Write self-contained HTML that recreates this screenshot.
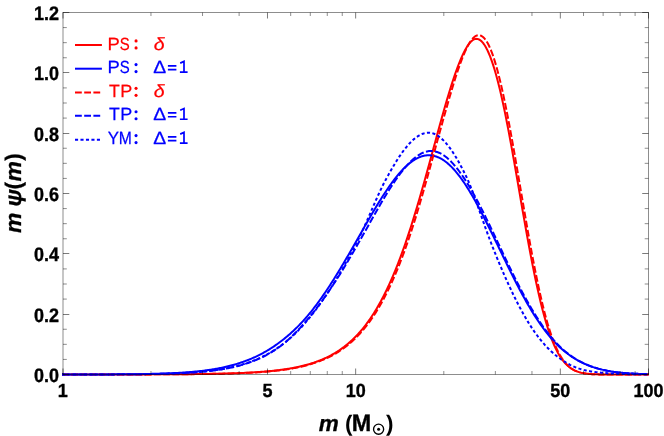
<!DOCTYPE html>
<html><head><meta charset="utf-8"><title>plot</title>
<style>html,body{margin:0;padding:0;background:#fff}svg{display:block;will-change:transform}text{text-rendering:geometricPrecision}</style></head>
<body><svg width="664" height="436" viewBox="0 0 664 436">
<rect width="664" height="436" fill="#fff"/>
<clipPath id="c"><rect x="62" y="12.5" width="586.8" height="364.0"/></clipPath>
<g clip-path="url(#c)"><path d="M62.0,374.49 L63.0,374.49 L64.0,374.49 L65.0,374.49 L66.0,374.49 L67.0,374.49 L68.0,374.49 L69.0,374.49 L70.0,374.49 L71.0,374.48 L72.0,374.48 L73.0,374.48 L74.0,374.48 L75.0,374.48 L76.0,374.48 L77.0,374.48 L78.0,374.48 L79.0,374.48 L80.0,374.48 L81.0,374.48 L82.0,374.48 L83.0,374.48 L84.0,374.48 L85.0,374.48 L86.0,374.48 L87.0,374.48 L88.0,374.48 L89.0,374.48 L90.0,374.48 L91.0,374.47 L92.0,374.47 L93.0,374.47 L94.0,374.47 L95.0,374.47 L96.0,374.47 L97.0,374.47 L98.0,374.47 L99.0,374.47 L100.0,374.47 L101.0,374.47 L102.0,374.47 L103.0,374.47 L104.0,374.46 L105.0,374.46 L106.0,374.46 L107.0,374.46 L108.0,374.46 L109.0,374.46 L110.0,374.46 L111.0,374.46 L112.0,374.46 L113.0,374.45 L114.0,374.45 L115.0,374.45 L116.0,374.45 L117.0,374.45 L118.0,374.45 L119.0,374.45 L120.0,374.45 L121.0,374.44 L122.0,374.44 L123.0,374.44 L124.0,374.44 L125.0,374.44 L126.0,374.44 L127.0,374.43 L128.0,374.43 L129.0,374.43 L130.0,374.43 L131.0,374.43 L132.0,374.42 L133.0,374.42 L134.0,374.42 L135.0,374.42 L136.0,374.42 L137.0,374.41 L138.0,374.41 L139.0,374.41 L140.0,374.41 L141.0,374.40 L142.0,374.40 L143.0,374.40 L144.0,374.40 L145.0,374.39 L146.0,374.39 L147.0,374.39 L148.0,374.38 L149.0,374.38 L150.0,374.38 L151.0,374.38 L152.0,374.37 L153.0,374.37 L154.0,374.36 L155.0,374.36 L156.0,374.36 L157.0,374.35 L158.0,374.35 L159.0,374.35 L160.0,374.34 L161.0,374.34 L162.0,374.33 L163.0,374.33 L164.0,374.32 L165.0,374.32 L166.0,374.31 L167.0,374.31 L168.0,374.30 L169.0,374.30 L170.0,374.29 L171.0,374.29 L172.0,374.28 L173.0,374.27 L174.0,374.27 L175.0,374.26 L176.0,374.25 L177.0,374.25 L178.0,374.24 L179.0,374.23 L180.0,374.23 L181.0,374.22 L182.0,374.21 L183.0,374.20 L184.0,374.19 L185.0,374.19 L186.0,374.18 L187.0,374.17 L188.0,374.16 L189.0,374.15 L190.0,374.14 L191.0,374.13 L192.0,374.12 L193.0,374.11 L194.0,374.10 L195.0,374.09 L196.0,374.08 L197.0,374.06 L198.0,374.05 L199.0,374.04 L200.0,374.03 L201.0,374.01 L202.0,374.00 L203.0,373.98 L204.0,373.97 L205.0,373.96 L206.0,373.94 L207.0,373.92 L208.0,373.91 L209.0,373.89 L210.0,373.87 L211.0,373.86 L212.0,373.84 L213.0,373.82 L214.0,373.80 L215.0,373.78 L216.0,373.76 L217.0,373.74 L218.0,373.72 L219.0,373.70 L220.0,373.67 L221.0,373.65 L222.0,373.63 L223.0,373.60 L224.0,373.58 L225.0,373.55 L226.0,373.52 L227.0,373.49 L228.0,373.47 L229.0,373.44 L230.0,373.41 L231.0,373.38 L232.0,373.34 L233.0,373.31 L234.0,373.28 L235.0,373.24 L236.0,373.21 L237.0,373.17 L238.0,373.13 L239.0,373.09 L240.0,373.05 L241.0,373.01 L242.0,372.97 L243.0,372.92 L244.0,372.88 L245.0,372.83 L246.0,372.78 L247.0,372.73 L248.0,372.68 L249.0,372.63 L250.0,372.58 L251.0,372.52 L252.0,372.47 L253.0,372.41 L254.0,372.35 L255.0,372.29 L256.0,372.22 L257.0,372.16 L258.0,372.09 L259.0,372.02 L260.0,371.95 L261.0,371.87 L262.0,371.80 L263.0,371.72 L264.0,371.64 L265.0,371.56 L266.0,371.47 L267.0,371.39 L268.0,371.30 L269.0,371.20 L270.0,371.11 L271.0,371.01 L272.0,370.91 L273.0,370.80 L274.0,370.70 L275.0,370.59 L276.0,370.47 L277.0,370.36 L278.0,370.24 L279.0,370.12 L280.0,369.99 L281.0,369.86 L282.0,369.72 L283.0,369.58 L284.0,369.44 L285.0,369.30 L286.0,369.15 L287.0,368.99 L288.0,368.83 L289.0,368.67 L290.0,368.50 L291.0,368.32 L292.0,368.15 L293.0,367.96 L294.0,367.77 L295.0,367.58 L296.0,367.38 L297.0,367.17 L298.0,366.96 L299.0,366.74 L300.0,366.52 L301.0,366.29 L302.0,366.05 L303.0,365.80 L304.0,365.55 L305.0,365.29 L306.0,365.03 L307.0,364.75 L308.0,364.47 L309.0,364.18 L310.0,363.89 L311.0,363.58 L312.0,363.27 L313.0,362.94 L314.0,362.61 L315.0,362.27 L316.0,361.92 L317.0,361.55 L318.0,361.18 L319.0,360.80 L320.0,360.41 L321.0,360.00 L322.0,359.59 L323.0,359.16 L324.0,358.72 L325.0,358.27 L326.0,357.81 L327.0,357.33 L328.0,356.84 L329.0,356.34 L330.0,355.82 L331.0,355.29 L332.0,354.75 L333.0,354.19 L334.0,353.61 L335.0,353.02 L336.0,352.41 L337.0,351.79 L338.0,351.15 L339.0,350.49 L340.0,349.81 L341.0,349.12 L342.0,348.41 L343.0,347.68 L344.0,346.93 L345.0,346.16 L346.0,345.37 L347.0,344.55 L348.0,343.72 L349.0,342.87 L350.0,341.99 L351.0,341.09 L352.0,340.17 L353.0,339.22 L354.0,338.25 L355.0,337.26 L356.0,336.24 L357.0,335.19 L358.0,334.12 L359.0,333.02 L360.0,331.89 L361.0,330.74 L362.0,329.55 L363.0,328.34 L364.0,327.10 L365.0,325.83 L366.0,324.53 L367.0,323.19 L368.0,321.83 L369.0,320.43 L370.0,319.00 L371.0,317.54 L372.0,316.04 L373.0,314.50 L374.0,312.94 L375.0,311.33 L376.0,309.69 L377.0,308.02 L378.0,306.30 L379.0,304.55 L380.0,302.76 L381.0,300.94 L382.0,299.07 L383.0,297.16 L384.0,295.21 L385.0,293.23 L386.0,291.20 L387.0,289.13 L388.0,287.01 L389.0,284.86 L390.0,282.66 L391.0,280.42 L392.0,278.14 L393.0,275.82 L394.0,273.45 L395.0,271.03 L396.0,268.58 L397.0,266.07 L398.0,263.53 L399.0,260.94 L400.0,258.30 L401.0,255.63 L402.0,252.90 L403.0,250.14 L404.0,247.33 L405.0,244.47 L406.0,241.58 L407.0,238.64 L408.0,235.66 L409.0,232.63 L410.0,229.57 L411.0,226.46 L412.0,223.31 L413.0,220.13 L414.0,216.90 L415.0,213.64 L416.0,210.34 L417.0,207.00 L418.0,203.63 L419.0,200.23 L420.0,196.80 L421.0,193.33 L422.0,189.84 L423.0,186.32 L424.0,182.77 L425.0,179.20 L426.0,175.61 L427.0,171.99 L428.0,168.36 L429.0,164.72 L430.0,161.06 L431.0,157.39 L432.0,153.71 L433.0,150.02 L434.0,146.34 L435.0,142.65 L436.0,138.97 L437.0,135.29 L438.0,131.62 L439.0,127.97 L440.0,124.33 L441.0,120.71 L442.0,117.12 L443.0,113.55 L444.0,110.01 L445.0,106.51 L446.0,103.05 L447.0,99.63 L448.0,96.26 L449.0,92.94 L450.0,89.67 L451.0,86.47 L452.0,83.33 L453.0,80.26 L454.0,77.26 L455.0,74.34 L456.0,71.49 L457.0,68.74 L458.0,66.07 L459.0,63.50 L460.0,61.02 L461.0,58.64 L462.0,56.37 L463.0,54.21 L464.0,52.17 L465.0,50.24 L466.0,48.45 L467.0,46.78 L468.0,45.26 L469.0,43.88 L470.0,42.65 L471.0,41.59 L472.0,40.69 L473.0,39.96 L474.0,39.41 L475.0,39.05 L476.0,38.87 L477.0,38.88 L478.0,39.08 L479.0,39.48 L480.0,40.06 L481.0,40.84 L482.0,41.80 L483.0,42.96 L484.0,44.30 L485.0,45.82 L486.0,47.53 L487.0,49.43 L488.0,51.50 L489.0,53.76 L490.0,56.19 L491.0,58.81 L492.0,61.60 L493.0,64.57 L494.0,67.71 L495.0,71.03 L496.0,74.52 L497.0,78.17 L498.0,81.99 L499.0,85.97 L500.0,90.10 L501.0,94.39 L502.0,98.82 L503.0,103.39 L504.0,108.09 L505.0,112.92 L506.0,117.87 L507.0,122.94 L508.0,128.11 L509.0,133.38 L510.0,138.73 L511.0,144.17 L512.0,149.69 L513.0,155.27 L514.0,160.91 L515.0,166.59 L516.0,172.32 L517.0,178.07 L518.0,183.85 L519.0,189.63 L520.0,195.42 L521.0,201.21 L522.0,206.98 L523.0,212.73 L524.0,218.45 L525.0,224.12 L526.0,229.75 L527.0,235.32 L528.0,240.83 L529.0,246.26 L530.0,251.62 L531.0,256.89 L532.0,262.07 L533.0,267.15 L534.0,272.13 L535.0,277.00 L536.0,281.75 L537.0,286.39 L538.0,290.90 L539.0,295.29 L540.0,299.55 L541.0,303.67 L542.0,307.66 L543.0,311.51 L544.0,315.23 L545.0,318.80 L546.0,322.24 L547.0,325.54 L548.0,328.70 L549.0,331.72 L550.0,334.60 L551.0,337.35 L552.0,339.96 L553.0,342.44 L554.0,344.79 L555.0,347.02 L556.0,349.12 L557.0,351.10 L558.0,352.96 L559.0,354.71 L560.0,356.36 L561.0,357.89 L562.0,359.32 L563.0,360.66 L564.0,361.90 L565.0,363.05 L566.0,364.12 L567.0,365.10 L568.0,366.01 L569.0,366.85 L570.0,367.62 L571.0,368.32 L572.0,368.97 L573.0,369.56 L574.0,370.09 L575.0,370.58 L576.0,371.02 L577.0,371.41 L578.0,371.77 L579.0,372.09 L580.0,372.38 L581.0,372.64 L582.0,372.87 L583.0,373.08 L584.0,373.26 L585.0,373.43 L586.0,373.57 L587.0,373.70 L588.0,373.81 L589.0,373.90 L590.0,373.99 L591.0,374.06 L592.0,374.13 L593.0,374.18 L594.0,374.23 L595.0,374.27 L596.0,374.31 L597.0,374.34 L598.0,374.37 L599.0,374.39 L600.0,374.41 L601.0,374.42 L602.0,374.44 L603.0,374.45 L604.0,374.46 L605.0,374.46 L606.0,374.47 L607.0,374.48 L608.0,374.48 L609.0,374.48 L610.0,374.49 L611.0,374.49 L612.0,374.49 L613.0,374.49 L614.0,374.49 L615.0,374.50 L616.0,374.50 L617.0,374.50 L618.0,374.50 L619.0,374.50 L620.0,374.50 L621.0,374.50 L622.0,374.50 L623.0,374.50 L624.0,374.50 L625.0,374.50 L626.0,374.50 L627.0,374.50 L628.0,374.50 L629.0,374.50 L630.0,374.50 L631.0,374.50 L632.0,374.50 L633.0,374.50 L634.0,374.50 L635.0,374.50 L636.0,374.50 L637.0,374.50 L638.0,374.50 L639.0,374.50 L640.0,374.50 L641.0,374.50 L642.0,374.50 L643.0,374.50 L644.0,374.50 L645.0,374.50 L646.0,374.50 L647.0,374.50 L648.0,374.50 L648.8,374.50" stroke="#ff0000" stroke-width="2" fill="none" stroke-linejoin="round"/><path d="M62.0,374.48 L63.0,374.48 L64.0,374.48 L65.0,374.48 L66.0,374.48 L67.0,374.48 L68.0,374.48 L69.0,374.48 L70.0,374.48 L71.0,374.48 L72.0,374.47 L73.0,374.47 L74.0,374.47 L75.0,374.47 L76.0,374.47 L77.0,374.47 L78.0,374.47 L79.0,374.47 L80.0,374.46 L81.0,374.46 L82.0,374.46 L83.0,374.46 L84.0,374.46 L85.0,374.46 L86.0,374.45 L87.0,374.45 L88.0,374.45 L89.0,374.45 L90.0,374.45 L91.0,374.44 L92.0,374.44 L93.0,374.44 L94.0,374.44 L95.0,374.43 L96.0,374.43 L97.0,374.43 L98.0,374.42 L99.0,374.42 L100.0,374.42 L101.0,374.41 L102.0,374.41 L103.0,374.41 L104.0,374.40 L105.0,374.40 L106.0,374.40 L107.0,374.39 L108.0,374.39 L109.0,374.38 L110.0,374.38 L111.0,374.37 L112.0,374.37 L113.0,374.36 L114.0,374.35 L115.0,374.35 L116.0,374.34 L117.0,374.34 L118.0,374.33 L119.0,374.32 L120.0,374.32 L121.0,374.31 L122.0,374.30 L123.0,374.29 L124.0,374.28 L125.0,374.28 L126.0,374.27 L127.0,374.26 L128.0,374.25 L129.0,374.24 L130.0,374.23 L131.0,374.22 L132.0,374.20 L133.0,374.19 L134.0,374.18 L135.0,374.17 L136.0,374.15 L137.0,374.14 L138.0,374.13 L139.0,374.11 L140.0,374.10 L141.0,374.08 L142.0,374.07 L143.0,374.05 L144.0,374.03 L145.0,374.01 L146.0,373.99 L147.0,373.98 L148.0,373.96 L149.0,373.93 L150.0,373.91 L151.0,373.89 L152.0,373.87 L153.0,373.84 L154.0,373.82 L155.0,373.79 L156.0,373.77 L157.0,373.74 L158.0,373.71 L159.0,373.68 L160.0,373.65 L161.0,373.62 L162.0,373.59 L163.0,373.55 L164.0,373.52 L165.0,373.48 L166.0,373.44 L167.0,373.41 L168.0,373.37 L169.0,373.33 L170.0,373.28 L171.0,373.24 L172.0,373.19 L173.0,373.15 L174.0,373.10 L175.0,373.05 L176.0,372.99 L177.0,372.94 L178.0,372.89 L179.0,372.83 L180.0,372.77 L181.0,372.71 L182.0,372.64 L183.0,372.58 L184.0,372.51 L185.0,372.44 L186.0,372.37 L187.0,372.30 L188.0,372.22 L189.0,372.14 L190.0,372.06 L191.0,371.98 L192.0,371.89 L193.0,371.80 L194.0,371.71 L195.0,371.62 L196.0,371.52 L197.0,371.42 L198.0,371.31 L199.0,371.21 L200.0,371.10 L201.0,370.98 L202.0,370.87 L203.0,370.75 L204.0,370.62 L205.0,370.49 L206.0,370.36 L207.0,370.23 L208.0,370.09 L209.0,369.95 L210.0,369.80 L211.0,369.65 L212.0,369.49 L213.0,369.33 L214.0,369.16 L215.0,368.99 L216.0,368.82 L217.0,368.64 L218.0,368.45 L219.0,368.26 L220.0,368.07 L221.0,367.86 L222.0,367.66 L223.0,367.45 L224.0,367.23 L225.0,367.01 L226.0,366.78 L227.0,366.54 L228.0,366.30 L229.0,366.05 L230.0,365.80 L231.0,365.54 L232.0,365.28 L233.0,365.00 L234.0,364.72 L235.0,364.44 L236.0,364.14 L237.0,363.84 L238.0,363.54 L239.0,363.22 L240.0,362.90 L241.0,362.57 L242.0,362.23 L243.0,361.88 L244.0,361.53 L245.0,361.16 L246.0,360.79 L247.0,360.41 L248.0,360.02 L249.0,359.62 L250.0,359.22 L251.0,358.80 L252.0,358.37 L253.0,357.94 L254.0,357.49 L255.0,357.04 L256.0,356.57 L257.0,356.10 L258.0,355.61 L259.0,355.12 L260.0,354.61 L261.0,354.09 L262.0,353.56 L263.0,353.02 L264.0,352.47 L265.0,351.90 L266.0,351.33 L267.0,350.74 L268.0,350.14 L269.0,349.53 L270.0,348.91 L271.0,348.27 L272.0,347.63 L273.0,346.97 L274.0,346.30 L275.0,345.62 L276.0,344.93 L277.0,344.23 L278.0,343.51 L279.0,342.78 L280.0,342.04 L281.0,341.28 L282.0,340.52 L283.0,339.74 L284.0,338.94 L285.0,338.14 L286.0,337.32 L287.0,336.48 L288.0,335.63 L289.0,334.77 L290.0,333.89 L291.0,333.00 L292.0,332.10 L293.0,331.18 L294.0,330.24 L295.0,329.29 L296.0,328.32 L297.0,327.34 L298.0,326.34 L299.0,325.33 L300.0,324.29 L301.0,323.25 L302.0,322.18 L303.0,321.10 L304.0,320.00 L305.0,318.88 L306.0,317.74 L307.0,316.59 L308.0,315.41 L309.0,314.22 L310.0,313.01 L311.0,311.78 L312.0,310.52 L313.0,309.25 L314.0,307.96 L315.0,306.65 L316.0,305.33 L317.0,303.99 L318.0,302.63 L319.0,301.26 L320.0,299.88 L321.0,298.48 L322.0,297.06 L323.0,295.63 L324.0,294.18 L325.0,292.72 L326.0,291.24 L327.0,289.75 L328.0,288.25 L329.0,286.73 L330.0,285.19 L331.0,283.65 L332.0,282.09 L333.0,280.52 L334.0,278.93 L335.0,277.34 L336.0,275.73 L337.0,274.11 L338.0,272.48 L339.0,270.84 L340.0,269.19 L341.0,267.52 L342.0,265.85 L343.0,264.17 L344.0,262.48 L345.0,260.78 L346.0,259.08 L347.0,257.36 L348.0,255.64 L349.0,253.92 L350.0,252.18 L351.0,250.45 L352.0,248.70 L353.0,246.96 L354.0,245.20 L355.0,243.45 L356.0,241.69 L357.0,239.94 L358.0,238.18 L359.0,236.41 L360.0,234.65 L361.0,232.89 L362.0,231.14 L363.0,229.38 L364.0,227.62 L365.0,225.87 L366.0,224.13 L367.0,222.38 L368.0,220.65 L369.0,218.92 L370.0,217.19 L371.0,215.48 L372.0,213.77 L373.0,212.07 L374.0,210.38 L375.0,208.71 L376.0,207.04 L377.0,205.39 L378.0,203.74 L379.0,202.12 L380.0,200.51 L381.0,198.91 L382.0,197.33 L383.0,195.76 L384.0,194.22 L385.0,192.69 L386.0,191.18 L387.0,189.70 L388.0,188.23 L389.0,186.79 L390.0,185.37 L391.0,183.97 L392.0,182.60 L393.0,181.25 L394.0,179.92 L395.0,178.63 L396.0,177.36 L397.0,176.12 L398.0,174.91 L399.0,173.73 L400.0,172.58 L401.0,171.46 L402.0,170.37 L403.0,169.31 L404.0,168.29 L405.0,167.30 L406.0,166.35 L407.0,165.43 L408.0,164.55 L409.0,163.71 L410.0,162.90 L411.0,162.13 L412.0,161.39 L413.0,160.70 L414.0,160.05 L415.0,159.43 L416.0,158.86 L417.0,158.33 L418.0,157.84 L419.0,157.39 L420.0,156.98 L421.0,156.62 L422.0,156.30 L423.0,156.02 L424.0,155.79 L425.0,155.60 L426.0,155.45 L427.0,155.35 L428.0,155.29 L429.0,155.28 L430.0,155.31 L431.0,155.39 L432.0,155.52 L433.0,155.68 L434.0,155.90 L435.0,156.16 L436.0,156.46 L437.0,156.81 L438.0,157.21 L439.0,157.65 L440.0,158.14 L441.0,158.67 L442.0,159.24 L443.0,159.87 L444.0,160.53 L445.0,161.24 L446.0,161.99 L447.0,162.79 L448.0,163.63 L449.0,164.51 L450.0,165.43 L451.0,166.40 L452.0,167.41 L453.0,168.46 L454.0,169.55 L455.0,170.67 L456.0,171.84 L457.0,173.05 L458.0,174.29 L459.0,175.58 L460.0,176.90 L461.0,178.25 L462.0,179.64 L463.0,181.07 L464.0,182.53 L465.0,184.02 L466.0,185.54 L467.0,187.10 L468.0,188.69 L469.0,190.31 L470.0,191.95 L471.0,193.63 L472.0,195.33 L473.0,197.05 L474.0,198.81 L475.0,200.58 L476.0,202.38 L477.0,204.21 L478.0,206.05 L479.0,207.92 L480.0,209.80 L481.0,211.71 L482.0,213.63 L483.0,215.57 L484.0,217.52 L485.0,219.49 L486.0,221.47 L487.0,223.46 L488.0,225.47 L489.0,227.48 L490.0,229.51 L491.0,231.54 L492.0,233.58 L493.0,235.63 L494.0,237.68 L495.0,239.74 L496.0,241.80 L497.0,243.86 L498.0,245.92 L499.0,247.99 L500.0,250.05 L501.0,252.12 L502.0,254.18 L503.0,256.24 L504.0,258.30 L505.0,260.36 L506.0,262.42 L507.0,264.46 L508.0,266.51 L509.0,268.54 L510.0,270.57 L511.0,272.58 L512.0,274.59 L513.0,276.59 L514.0,278.57 L515.0,280.54 L516.0,282.50 L517.0,284.44 L518.0,286.37 L519.0,288.28 L520.0,290.18 L521.0,292.05 L522.0,293.91 L523.0,295.75 L524.0,297.57 L525.0,299.38 L526.0,301.16 L527.0,302.92 L528.0,304.65 L529.0,306.37 L530.0,308.06 L531.0,309.73 L532.0,311.38 L533.0,313.01 L534.0,314.61 L535.0,316.18 L536.0,317.73 L537.0,319.26 L538.0,320.76 L539.0,322.24 L540.0,323.69 L541.0,325.12 L542.0,326.53 L543.0,327.92 L544.0,329.28 L545.0,330.63 L546.0,331.94 L547.0,333.23 L548.0,334.50 L549.0,335.73 L550.0,336.94 L551.0,338.11 L552.0,339.26 L553.0,340.38 L554.0,341.46 L555.0,342.52 L556.0,343.55 L557.0,344.55 L558.0,345.53 L559.0,346.48 L560.0,347.41 L561.0,348.32 L562.0,349.20 L563.0,350.06 L564.0,350.90 L565.0,351.72 L566.0,352.51 L567.0,353.29 L568.0,354.04 L569.0,354.77 L570.0,355.49 L571.0,356.18 L572.0,356.85 L573.0,357.51 L574.0,358.15 L575.0,358.77 L576.0,359.37 L577.0,359.95 L578.0,360.51 L579.0,361.06 L580.0,361.59 L581.0,362.10 L582.0,362.60 L583.0,363.08 L584.0,363.54 L585.0,363.99 L586.0,364.42 L587.0,364.84 L588.0,365.25 L589.0,365.64 L590.0,366.02 L591.0,366.38 L592.0,366.74 L593.0,367.08 L594.0,367.40 L595.0,367.72 L596.0,368.02 L597.0,368.32 L598.0,368.60 L599.0,368.87 L600.0,369.13 L601.0,369.39 L602.0,369.63 L603.0,369.86 L604.0,370.09 L605.0,370.30 L606.0,370.51 L607.0,370.70 L608.0,370.89 L609.0,371.07 L610.0,371.25 L611.0,371.41 L612.0,371.57 L613.0,371.72 L614.0,371.87 L615.0,372.00 L616.0,372.14 L617.0,372.26 L618.0,372.38 L619.0,372.49 L620.0,372.60 L621.0,372.71 L622.0,372.81 L623.0,372.90 L624.0,372.99 L625.0,373.07 L626.0,373.15 L627.0,373.23 L628.0,373.30 L629.0,373.37 L630.0,373.44 L631.0,373.50 L632.0,373.56 L633.0,373.62 L634.0,373.67 L635.0,373.72 L636.0,373.77 L637.0,373.81 L638.0,373.85 L639.0,373.89 L640.0,373.93 L641.0,373.97 L642.0,374.00 L643.0,374.03 L644.0,374.06 L645.0,374.09 L646.0,374.12 L647.0,374.14 L648.0,374.16 L648.8,374.18" stroke="#0000ff" stroke-width="2" fill="none" stroke-linejoin="round"/><path d="M62.0,374.49 L63.0,374.49 L64.0,374.49 L65.0,374.49 L66.0,374.49 L67.0,374.49 L68.0,374.49 L69.0,374.49 L70.0,374.49 L71.0,374.49 L72.0,374.49 L73.0,374.49 L74.0,374.48 L75.0,374.48 L76.0,374.48 L77.0,374.48 L78.0,374.48 L79.0,374.48 L80.0,374.48 L81.0,374.48 L82.0,374.48 L83.0,374.48 L84.0,374.48 L85.0,374.48 L86.0,374.48 L87.0,374.48 L88.0,374.48 L89.0,374.48 L90.0,374.48 L91.0,374.48 L92.0,374.48 L93.0,374.47 L94.0,374.47 L95.0,374.47 L96.0,374.47 L97.0,374.47 L98.0,374.47 L99.0,374.47 L100.0,374.47 L101.0,374.47 L102.0,374.47 L103.0,374.47 L104.0,374.47 L105.0,374.47 L106.0,374.46 L107.0,374.46 L108.0,374.46 L109.0,374.46 L110.0,374.46 L111.0,374.46 L112.0,374.46 L113.0,374.46 L114.0,374.46 L115.0,374.46 L116.0,374.45 L117.0,374.45 L118.0,374.45 L119.0,374.45 L120.0,374.45 L121.0,374.45 L122.0,374.45 L123.0,374.44 L124.0,374.44 L125.0,374.44 L126.0,374.44 L127.0,374.44 L128.0,374.44 L129.0,374.44 L130.0,374.43 L131.0,374.43 L132.0,374.43 L133.0,374.43 L134.0,374.43 L135.0,374.42 L136.0,374.42 L137.0,374.42 L138.0,374.42 L139.0,374.42 L140.0,374.41 L141.0,374.41 L142.0,374.41 L143.0,374.41 L144.0,374.40 L145.0,374.40 L146.0,374.40 L147.0,374.40 L148.0,374.39 L149.0,374.39 L150.0,374.39 L151.0,374.38 L152.0,374.38 L153.0,374.38 L154.0,374.37 L155.0,374.37 L156.0,374.37 L157.0,374.36 L158.0,374.36 L159.0,374.36 L160.0,374.35 L161.0,374.35 L162.0,374.34 L163.0,374.34 L164.0,374.34 L165.0,374.33 L166.0,374.33 L167.0,374.32 L168.0,374.32 L169.0,374.31 L170.0,374.31 L171.0,374.30 L172.0,374.30 L173.0,374.29 L174.0,374.28 L175.0,374.28 L176.0,374.27 L177.0,374.27 L178.0,374.26 L179.0,374.25 L180.0,374.25 L181.0,374.24 L182.0,374.23 L183.0,374.22 L184.0,374.22 L185.0,374.21 L186.0,374.20 L187.0,374.19 L188.0,374.18 L189.0,374.17 L190.0,374.17 L191.0,374.16 L192.0,374.15 L193.0,374.14 L194.0,374.13 L195.0,374.12 L196.0,374.11 L197.0,374.09 L198.0,374.08 L199.0,374.07 L200.0,374.06 L201.0,374.05 L202.0,374.03 L203.0,374.02 L204.0,374.01 L205.0,373.99 L206.0,373.98 L207.0,373.96 L208.0,373.95 L209.0,373.93 L210.0,373.92 L211.0,373.90 L212.0,373.89 L213.0,373.87 L214.0,373.85 L215.0,373.83 L216.0,373.81 L217.0,373.79 L218.0,373.77 L219.0,373.75 L220.0,373.73 L221.0,373.71 L222.0,373.69 L223.0,373.66 L224.0,373.64 L225.0,373.62 L226.0,373.59 L227.0,373.57 L228.0,373.54 L229.0,373.51 L230.0,373.48 L231.0,373.45 L232.0,373.42 L233.0,373.39 L234.0,373.36 L235.0,373.33 L236.0,373.30 L237.0,373.26 L238.0,373.23 L239.0,373.19 L240.0,373.15 L241.0,373.11 L242.0,373.07 L243.0,373.03 L244.0,372.99 L245.0,372.95 L246.0,372.90 L247.0,372.86 L248.0,372.81 L249.0,372.76 L250.0,372.71 L251.0,372.66 L252.0,372.61 L253.0,372.55 L254.0,372.50 L255.0,372.44 L256.0,372.38 L257.0,372.32 L258.0,372.26 L259.0,372.19 L260.0,372.13 L261.0,372.06 L262.0,371.99 L263.0,371.91 L264.0,371.84 L265.0,371.76 L266.0,371.68 L267.0,371.60 L268.0,371.52 L269.0,371.43 L270.0,371.34 L271.0,371.25 L272.0,371.16 L273.0,371.06 L274.0,370.96 L275.0,370.85 L276.0,370.75 L277.0,370.63 L278.0,370.52 L279.0,370.40 L280.0,370.28 L281.0,370.15 L282.0,370.02 L283.0,369.89 L284.0,369.75 L285.0,369.61 L286.0,369.46 L287.0,369.31 L288.0,369.16 L289.0,369.00 L290.0,368.83 L291.0,368.66 L292.0,368.49 L293.0,368.30 L294.0,368.12 L295.0,367.93 L296.0,367.73 L297.0,367.53 L298.0,367.32 L299.0,367.11 L300.0,366.88 L301.0,366.66 L302.0,366.42 L303.0,366.19 L304.0,365.94 L305.0,365.69 L306.0,365.43 L307.0,365.16 L308.0,364.89 L309.0,364.60 L310.0,364.32 L311.0,364.02 L312.0,363.72 L313.0,363.40 L314.0,363.08 L315.0,362.76 L316.0,362.42 L317.0,362.07 L318.0,361.71 L319.0,361.34 L320.0,360.96 L321.0,360.58 L322.0,360.18 L323.0,359.77 L324.0,359.34 L325.0,358.91 L326.0,358.46 L327.0,358.00 L328.0,357.53 L329.0,357.05 L330.0,356.55 L331.0,356.04 L332.0,355.52 L333.0,354.98 L334.0,354.42 L335.0,353.85 L336.0,353.27 L337.0,352.67 L338.0,352.05 L339.0,351.42 L340.0,350.77 L341.0,350.10 L342.0,349.41 L343.0,348.71 L344.0,347.99 L345.0,347.25 L346.0,346.48 L347.0,345.70 L348.0,344.90 L349.0,344.08 L350.0,343.24 L351.0,342.37 L352.0,341.48 L353.0,340.57 L354.0,339.64 L355.0,338.68 L356.0,337.70 L357.0,336.69 L358.0,335.66 L359.0,334.60 L360.0,333.52 L361.0,332.40 L362.0,331.27 L363.0,330.10 L364.0,328.90 L365.0,327.68 L366.0,326.43 L367.0,325.14 L368.0,323.83 L369.0,322.49 L370.0,321.11 L371.0,319.70 L372.0,318.26 L373.0,316.78 L374.0,315.28 L375.0,313.73 L376.0,312.16 L377.0,310.55 L378.0,308.90 L379.0,307.22 L380.0,305.50 L381.0,303.74 L382.0,301.95 L383.0,300.11 L384.0,298.24 L385.0,296.34 L386.0,294.39 L387.0,292.40 L388.0,290.37 L389.0,288.31 L390.0,286.20 L391.0,284.05 L392.0,281.86 L393.0,279.63 L394.0,277.35 L395.0,275.04 L396.0,272.68 L397.0,270.28 L398.0,267.84 L399.0,265.35 L400.0,262.83 L401.0,260.25 L402.0,257.64 L403.0,254.98 L404.0,252.29 L405.0,249.54 L406.0,246.76 L407.0,243.93 L408.0,241.05 L409.0,238.12 L410.0,235.15 L411.0,232.13 L412.0,229.06 L413.0,225.95 L414.0,222.79 L415.0,219.59 L416.0,216.34 L417.0,213.06 L418.0,209.74 L419.0,206.38 L420.0,202.99 L421.0,199.56 L422.0,196.11 L423.0,192.62 L424.0,189.11 L425.0,185.58 L426.0,182.02 L427.0,178.45 L428.0,174.86 L429.0,171.26 L430.0,167.64 L431.0,164.01 L432.0,160.37 L433.0,156.72 L434.0,153.06 L435.0,149.40 L436.0,145.75 L437.0,142.09 L438.0,138.43 L439.0,134.78 L440.0,131.14 L441.0,127.51 L442.0,123.90 L443.0,120.30 L444.0,116.73 L445.0,113.17 L446.0,109.64 L447.0,106.14 L448.0,102.66 L449.0,99.20 L450.0,95.76 L451.0,92.36 L452.0,88.99 L453.0,85.67 L454.0,82.40 L455.0,79.19 L456.0,76.05 L457.0,72.97 L458.0,69.98 L459.0,67.06 L460.0,64.25 L461.0,61.53 L462.0,58.92 L463.0,56.41 L464.0,54.01 L465.0,51.71 L466.0,49.53 L467.0,47.48 L468.0,45.55 L469.0,43.76 L470.0,42.12 L471.0,40.64 L472.0,39.32 L473.0,38.17 L474.0,37.20 L475.0,36.42 L476.0,35.82 L477.0,35.42 L478.0,35.21 L479.0,35.19 L480.0,35.36 L481.0,35.71 L482.0,36.26 L483.0,37.01 L484.0,37.96 L485.0,39.10 L486.0,40.45 L487.0,42.01 L488.0,43.77 L489.0,45.74 L490.0,47.92 L491.0,50.31 L492.0,52.90 L493.0,55.70 L494.0,58.69 L495.0,61.88 L496.0,65.25 L497.0,68.80 L498.0,72.52 L499.0,76.42 L500.0,80.47 L501.0,84.68 L502.0,89.04 L503.0,93.53 L504.0,98.17 L505.0,102.95 L506.0,107.86 L507.0,112.89 L508.0,118.04 L509.0,123.29 L510.0,128.65 L511.0,134.09 L512.0,139.62 L513.0,145.22 L514.0,150.89 L515.0,156.62 L516.0,162.39 L517.0,168.19 L518.0,174.01 L519.0,179.85 L520.0,185.70 L521.0,191.55 L522.0,197.40 L523.0,203.24 L524.0,209.07 L525.0,214.87 L526.0,220.64 L527.0,226.37 L528.0,232.06 L529.0,237.68 L530.0,243.23 L531.0,248.69 L532.0,254.06 L533.0,259.34 L534.0,264.52 L535.0,269.60 L536.0,274.59 L537.0,279.46 L538.0,284.23 L539.0,288.88 L540.0,293.42 L541.0,297.83 L542.0,302.12 L543.0,306.28 L544.0,310.31 L545.0,314.19 L546.0,317.93 L547.0,321.52 L548.0,324.96 L549.0,328.25 L550.0,331.39 L551.0,334.38 L552.0,337.23 L553.0,339.94 L554.0,342.50 L555.0,344.92 L556.0,347.21 L557.0,349.37 L558.0,351.42 L559.0,353.35 L560.0,355.17 L561.0,356.87 L562.0,358.45 L563.0,359.92 L564.0,361.28 L565.0,362.54 L566.0,363.69 L567.0,364.75 L568.0,365.72 L569.0,366.62 L570.0,367.44 L571.0,368.18 L572.0,368.86 L573.0,369.48 L574.0,370.04 L575.0,370.54 L576.0,371.00 L577.0,371.40 L578.0,371.77 L579.0,372.09 L580.0,372.38 L581.0,372.64 L582.0,372.87 L583.0,373.08 L584.0,373.26 L585.0,373.43 L586.0,373.57 L587.0,373.70 L588.0,373.81 L589.0,373.90 L590.0,373.99 L591.0,374.06 L592.0,374.13 L593.0,374.18 L594.0,374.23 L595.0,374.27 L596.0,374.31 L597.0,374.34 L598.0,374.37 L599.0,374.39 L600.0,374.41 L601.0,374.42 L602.0,374.44 L603.0,374.45 L604.0,374.46 L605.0,374.46 L606.0,374.47 L607.0,374.48 L608.0,374.48 L609.0,374.48 L610.0,374.49 L611.0,374.49 L612.0,374.49 L613.0,374.49 L614.0,374.49 L615.0,374.50 L616.0,374.50 L617.0,374.50 L618.0,374.50 L619.0,374.50 L620.0,374.50 L621.0,374.50 L622.0,374.50 L623.0,374.50 L624.0,374.50 L625.0,374.50 L626.0,374.50 L627.0,374.50 L628.0,374.50 L629.0,374.50 L630.0,374.50 L631.0,374.50 L632.0,374.50 L633.0,374.50 L634.0,374.50 L635.0,374.50 L636.0,374.50 L637.0,374.50 L638.0,374.50 L639.0,374.50 L640.0,374.50 L641.0,374.50 L642.0,374.50 L643.0,374.50 L644.0,374.50 L645.0,374.50 L646.0,374.50 L647.0,374.50 L648.0,374.50 L648.8,374.50" stroke="#ff0000" stroke-width="2" fill="none" stroke-dasharray="6.8,2.4" stroke-linejoin="round"/><path d="M62.0,374.49 L63.0,374.49 L64.0,374.49 L65.0,374.49 L66.0,374.49 L67.0,374.48 L68.0,374.48 L69.0,374.48 L70.0,374.48 L71.0,374.48 L72.0,374.48 L73.0,374.48 L74.0,374.48 L75.0,374.48 L76.0,374.48 L77.0,374.48 L78.0,374.48 L79.0,374.47 L80.0,374.47 L81.0,374.47 L82.0,374.47 L83.0,374.47 L84.0,374.47 L85.0,374.47 L86.0,374.47 L87.0,374.46 L88.0,374.46 L89.0,374.46 L90.0,374.46 L91.0,374.46 L92.0,374.46 L93.0,374.45 L94.0,374.45 L95.0,374.45 L96.0,374.45 L97.0,374.45 L98.0,374.44 L99.0,374.44 L100.0,374.44 L101.0,374.44 L102.0,374.43 L103.0,374.43 L104.0,374.43 L105.0,374.42 L106.0,374.42 L107.0,374.42 L108.0,374.41 L109.0,374.41 L110.0,374.41 L111.0,374.40 L112.0,374.40 L113.0,374.40 L114.0,374.39 L115.0,374.39 L116.0,374.38 L117.0,374.38 L118.0,374.37 L119.0,374.37 L120.0,374.36 L121.0,374.36 L122.0,374.35 L123.0,374.34 L124.0,374.34 L125.0,374.33 L126.0,374.32 L127.0,374.32 L128.0,374.31 L129.0,374.30 L130.0,374.29 L131.0,374.29 L132.0,374.28 L133.0,374.27 L134.0,374.26 L135.0,374.25 L136.0,374.24 L137.0,374.23 L138.0,374.22 L139.0,374.21 L140.0,374.20 L141.0,374.19 L142.0,374.17 L143.0,374.16 L144.0,374.15 L145.0,374.13 L146.0,374.12 L147.0,374.11 L148.0,374.09 L149.0,374.08 L150.0,374.06 L151.0,374.04 L152.0,374.02 L153.0,374.01 L154.0,373.99 L155.0,373.97 L156.0,373.95 L157.0,373.93 L158.0,373.91 L159.0,373.88 L160.0,373.86 L161.0,373.84 L162.0,373.81 L163.0,373.79 L164.0,373.76 L165.0,373.73 L166.0,373.70 L167.0,373.68 L168.0,373.65 L169.0,373.61 L170.0,373.58 L171.0,373.55 L172.0,373.51 L173.0,373.48 L174.0,373.44 L175.0,373.40 L176.0,373.36 L177.0,373.32 L178.0,373.28 L179.0,373.24 L180.0,373.19 L181.0,373.15 L182.0,373.10 L183.0,373.05 L184.0,373.00 L185.0,372.94 L186.0,372.89 L187.0,372.83 L188.0,372.77 L189.0,372.71 L190.0,372.65 L191.0,372.59 L192.0,372.52 L193.0,372.46 L194.0,372.38 L195.0,372.31 L196.0,372.24 L197.0,372.16 L198.0,372.08 L199.0,372.00 L200.0,371.92 L201.0,371.83 L202.0,371.74 L203.0,371.65 L204.0,371.55 L205.0,371.45 L206.0,371.35 L207.0,371.25 L208.0,371.14 L209.0,371.03 L210.0,370.92 L211.0,370.80 L212.0,370.68 L213.0,370.56 L214.0,370.43 L215.0,370.30 L216.0,370.16 L217.0,370.02 L218.0,369.88 L219.0,369.73 L220.0,369.58 L221.0,369.43 L222.0,369.27 L223.0,369.10 L224.0,368.93 L225.0,368.76 L226.0,368.58 L227.0,368.39 L228.0,368.20 L229.0,368.00 L230.0,367.80 L231.0,367.59 L232.0,367.37 L233.0,367.15 L234.0,366.92 L235.0,366.69 L236.0,366.45 L237.0,366.20 L238.0,365.95 L239.0,365.68 L240.0,365.41 L241.0,365.14 L242.0,364.85 L243.0,364.56 L244.0,364.26 L245.0,363.95 L246.0,363.63 L247.0,363.31 L248.0,362.97 L249.0,362.63 L250.0,362.28 L251.0,361.91 L252.0,361.54 L253.0,361.16 L254.0,360.77 L255.0,360.37 L256.0,359.96 L257.0,359.54 L258.0,359.11 L259.0,358.67 L260.0,358.22 L261.0,357.75 L262.0,357.28 L263.0,356.79 L264.0,356.30 L265.0,355.79 L266.0,355.27 L267.0,354.73 L268.0,354.19 L269.0,353.63 L270.0,353.06 L271.0,352.47 L272.0,351.86 L273.0,351.24 L274.0,350.61 L275.0,349.96 L276.0,349.29 L277.0,348.61 L278.0,347.90 L279.0,347.19 L280.0,346.45 L281.0,345.70 L282.0,344.93 L283.0,344.14 L284.0,343.34 L285.0,342.52 L286.0,341.68 L287.0,340.82 L288.0,339.94 L289.0,339.05 L290.0,338.14 L291.0,337.21 L292.0,336.26 L293.0,335.30 L294.0,334.32 L295.0,333.32 L296.0,332.30 L297.0,331.27 L298.0,330.22 L299.0,329.15 L300.0,328.07 L301.0,326.97 L302.0,325.86 L303.0,324.73 L304.0,323.59 L305.0,322.44 L306.0,321.27 L307.0,320.09 L308.0,318.89 L309.0,317.69 L310.0,316.47 L311.0,315.25 L312.0,314.02 L313.0,312.77 L314.0,311.52 L315.0,310.26 L316.0,308.97 L317.0,307.68 L318.0,306.37 L319.0,305.04 L320.0,303.70 L321.0,302.35 L322.0,300.98 L323.0,299.59 L324.0,298.20 L325.0,296.79 L326.0,295.36 L327.0,293.93 L328.0,292.48 L329.0,291.01 L330.0,289.54 L331.0,288.05 L332.0,286.55 L333.0,285.03 L334.0,283.50 L335.0,281.97 L336.0,280.42 L337.0,278.85 L338.0,277.28 L339.0,275.70 L340.0,274.10 L341.0,272.50 L342.0,270.88 L343.0,269.26 L344.0,267.62 L345.0,265.97 L346.0,264.32 L347.0,262.66 L348.0,260.98 L349.0,259.30 L350.0,257.61 L351.0,255.92 L352.0,254.21 L353.0,252.50 L354.0,250.78 L355.0,249.06 L356.0,247.32 L357.0,245.59 L358.0,243.84 L359.0,242.09 L360.0,240.34 L361.0,238.57 L362.0,236.81 L363.0,235.04 L364.0,233.26 L365.0,231.49 L366.0,229.71 L367.0,227.93 L368.0,226.15 L369.0,224.37 L370.0,222.59 L371.0,220.81 L372.0,219.04 L373.0,217.26 L374.0,215.49 L375.0,213.73 L376.0,211.97 L377.0,210.22 L378.0,208.48 L379.0,206.74 L380.0,205.02 L381.0,203.30 L382.0,201.60 L383.0,199.91 L384.0,198.23 L385.0,196.56 L386.0,194.91 L387.0,193.28 L388.0,191.66 L389.0,190.06 L390.0,188.48 L391.0,186.93 L392.0,185.39 L393.0,183.87 L394.0,182.38 L395.0,180.91 L396.0,179.47 L397.0,178.05 L398.0,176.66 L399.0,175.30 L400.0,173.97 L401.0,172.68 L402.0,171.40 L403.0,170.15 L404.0,168.93 L405.0,167.73 L406.0,166.56 L407.0,165.43 L408.0,164.32 L409.0,163.25 L410.0,162.22 L411.0,161.23 L412.0,160.28 L413.0,159.37 L414.0,158.50 L415.0,157.69 L416.0,156.92 L417.0,156.20 L418.0,155.51 L419.0,154.87 L420.0,154.27 L421.0,153.71 L422.0,153.20 L423.0,152.74 L424.0,152.33 L425.0,151.97 L426.0,151.67 L427.0,151.42 L428.0,151.23 L429.0,151.10 L430.0,151.04 L431.0,151.03 L432.0,151.06 L433.0,151.15 L434.0,151.28 L435.0,151.46 L436.0,151.69 L437.0,151.98 L438.0,152.31 L439.0,152.71 L440.0,153.15 L441.0,153.65 L442.0,154.21 L443.0,154.83 L444.0,155.50 L445.0,156.23 L446.0,157.00 L447.0,157.83 L448.0,158.70 L449.0,159.61 L450.0,160.57 L451.0,161.57 L452.0,162.61 L453.0,163.69 L454.0,164.82 L455.0,165.98 L456.0,167.18 L457.0,168.42 L458.0,169.69 L459.0,171.00 L460.0,172.35 L461.0,173.73 L462.0,175.15 L463.0,176.61 L464.0,178.10 L465.0,179.62 L466.0,181.17 L467.0,182.76 L468.0,184.38 L469.0,186.03 L470.0,187.71 L471.0,189.41 L472.0,191.15 L473.0,192.91 L474.0,194.69 L475.0,196.51 L476.0,198.34 L477.0,200.20 L478.0,202.08 L479.0,203.99 L480.0,205.91 L481.0,207.85 L482.0,209.81 L483.0,211.79 L484.0,213.79 L485.0,215.80 L486.0,217.82 L487.0,219.86 L488.0,221.91 L489.0,223.97 L490.0,226.04 L491.0,228.12 L492.0,230.20 L493.0,232.30 L494.0,234.40 L495.0,236.50 L496.0,238.61 L497.0,240.72 L498.0,242.84 L499.0,244.95 L500.0,247.07 L501.0,249.18 L502.0,251.29 L503.0,253.40 L504.0,255.51 L505.0,257.60 L506.0,259.70 L507.0,261.78 L508.0,263.86 L509.0,265.93 L510.0,267.99 L511.0,270.04 L512.0,272.08 L513.0,274.11 L514.0,276.12 L515.0,278.12 L516.0,280.11 L517.0,282.08 L518.0,284.04 L519.0,285.98 L520.0,287.90 L521.0,289.80 L522.0,291.69 L523.0,293.56 L524.0,295.41 L525.0,297.23 L526.0,299.04 L527.0,300.83 L528.0,302.60 L529.0,304.34 L530.0,306.06 L531.0,307.76 L532.0,309.44 L533.0,311.10 L534.0,312.73 L535.0,314.35 L536.0,315.95 L537.0,317.52 L538.0,319.07 L539.0,320.60 L540.0,322.11 L541.0,323.59 L542.0,325.04 L543.0,326.47 L544.0,327.87 L545.0,329.25 L546.0,330.60 L547.0,331.92 L548.0,333.21 L549.0,334.48 L550.0,335.72 L551.0,336.93 L552.0,338.12 L553.0,339.28 L554.0,340.42 L555.0,341.53 L556.0,342.62 L557.0,343.69 L558.0,344.72 L559.0,345.73 L560.0,346.72 L561.0,347.68 L562.0,348.61 L563.0,349.51 L564.0,350.39 L565.0,351.25 L566.0,352.08 L567.0,352.88 L568.0,353.66 L569.0,354.42 L570.0,355.15 L571.0,355.87 L572.0,356.56 L573.0,357.24 L574.0,357.89 L575.0,358.53 L576.0,359.14 L577.0,359.74 L578.0,360.32 L579.0,360.88 L580.0,361.42 L581.0,361.95 L582.0,362.46 L583.0,362.95 L584.0,363.43 L585.0,363.89 L586.0,364.34 L587.0,364.77 L588.0,365.18 L589.0,365.58 L590.0,365.97 L591.0,366.34 L592.0,366.70 L593.0,367.05 L594.0,367.38 L595.0,367.70 L596.0,368.01 L597.0,368.31 L598.0,368.59 L599.0,368.87 L600.0,369.13 L601.0,369.38 L602.0,369.63 L603.0,369.86 L604.0,370.08 L605.0,370.30 L606.0,370.51 L607.0,370.70 L608.0,370.89 L609.0,371.07 L610.0,371.25 L611.0,371.41 L612.0,371.57 L613.0,371.72 L614.0,371.87 L615.0,372.00 L616.0,372.14 L617.0,372.26 L618.0,372.38 L619.0,372.49 L620.0,372.60 L621.0,372.71 L622.0,372.81 L623.0,372.90 L624.0,372.99 L625.0,373.07 L626.0,373.15 L627.0,373.23 L628.0,373.30 L629.0,373.37 L630.0,373.44 L631.0,373.50 L632.0,373.56 L633.0,373.62 L634.0,373.67 L635.0,373.72 L636.0,373.77 L637.0,373.81 L638.0,373.85 L639.0,373.89 L640.0,373.93 L641.0,373.97 L642.0,374.00 L643.0,374.03 L644.0,374.06 L645.0,374.09 L646.0,374.12 L647.0,374.14 L648.0,374.16 L648.8,374.18" stroke="#0000ff" stroke-width="2" fill="none" stroke-dasharray="6.8,2.4" stroke-linejoin="round"/><path d="M62.0,374.49 L63.0,374.49 L64.0,374.49 L65.0,374.49 L66.0,374.49 L67.0,374.48 L68.0,374.48 L69.0,374.48 L70.0,374.48 L71.0,374.48 L72.0,374.48 L73.0,374.48 L74.0,374.48 L75.0,374.48 L76.0,374.48 L77.0,374.48 L78.0,374.48 L79.0,374.47 L80.0,374.47 L81.0,374.47 L82.0,374.47 L83.0,374.47 L84.0,374.47 L85.0,374.47 L86.0,374.47 L87.0,374.46 L88.0,374.46 L89.0,374.46 L90.0,374.46 L91.0,374.46 L92.0,374.46 L93.0,374.45 L94.0,374.45 L95.0,374.45 L96.0,374.45 L97.0,374.44 L98.0,374.44 L99.0,374.44 L100.0,374.44 L101.0,374.44 L102.0,374.43 L103.0,374.43 L104.0,374.43 L105.0,374.42 L106.0,374.42 L107.0,374.42 L108.0,374.41 L109.0,374.41 L110.0,374.41 L111.0,374.40 L112.0,374.40 L113.0,374.39 L114.0,374.39 L115.0,374.39 L116.0,374.38 L117.0,374.38 L118.0,374.37 L119.0,374.37 L120.0,374.36 L121.0,374.35 L122.0,374.35 L123.0,374.34 L124.0,374.34 L125.0,374.33 L126.0,374.32 L127.0,374.31 L128.0,374.31 L129.0,374.30 L130.0,374.29 L131.0,374.28 L132.0,374.27 L133.0,374.27 L134.0,374.26 L135.0,374.25 L136.0,374.24 L137.0,374.23 L138.0,374.22 L139.0,374.20 L140.0,374.19 L141.0,374.18 L142.0,374.17 L143.0,374.16 L144.0,374.14 L145.0,374.13 L146.0,374.11 L147.0,374.10 L148.0,374.08 L149.0,374.07 L150.0,374.05 L151.0,374.03 L152.0,374.02 L153.0,374.00 L154.0,373.98 L155.0,373.96 L156.0,373.94 L157.0,373.92 L158.0,373.90 L159.0,373.87 L160.0,373.85 L161.0,373.82 L162.0,373.80 L163.0,373.77 L164.0,373.75 L165.0,373.72 L166.0,373.69 L167.0,373.66 L168.0,373.63 L169.0,373.60 L170.0,373.56 L171.0,373.53 L172.0,373.49 L173.0,373.46 L174.0,373.42 L175.0,373.38 L176.0,373.34 L177.0,373.30 L178.0,373.26 L179.0,373.21 L180.0,373.17 L181.0,373.12 L182.0,373.07 L183.0,373.02 L184.0,372.97 L185.0,372.91 L186.0,372.86 L187.0,372.80 L188.0,372.74 L189.0,372.68 L190.0,372.61 L191.0,372.55 L192.0,372.48 L193.0,372.41 L194.0,372.34 L195.0,372.26 L196.0,372.19 L197.0,372.11 L198.0,372.03 L199.0,371.94 L200.0,371.86 L201.0,371.77 L202.0,371.68 L203.0,371.58 L204.0,371.48 L205.0,371.38 L206.0,371.28 L207.0,371.17 L208.0,371.06 L209.0,370.95 L210.0,370.83 L211.0,370.71 L212.0,370.59 L213.0,370.46 L214.0,370.33 L215.0,370.20 L216.0,370.06 L217.0,369.92 L218.0,369.77 L219.0,369.62 L220.0,369.46 L221.0,369.30 L222.0,369.14 L223.0,368.97 L224.0,368.79 L225.0,368.61 L226.0,368.43 L227.0,368.24 L228.0,368.04 L229.0,367.84 L230.0,367.63 L231.0,367.42 L232.0,367.20 L233.0,366.97 L234.0,366.74 L235.0,366.50 L236.0,366.26 L237.0,366.00 L238.0,365.74 L239.0,365.48 L240.0,365.20 L241.0,364.92 L242.0,364.63 L243.0,364.33 L244.0,364.03 L245.0,363.72 L246.0,363.39 L247.0,363.06 L248.0,362.73 L249.0,362.38 L250.0,362.02 L251.0,361.66 L252.0,361.28 L253.0,360.90 L254.0,360.50 L255.0,360.10 L256.0,359.69 L257.0,359.26 L258.0,358.83 L259.0,358.38 L260.0,357.93 L261.0,357.46 L262.0,356.99 L263.0,356.50 L264.0,356.00 L265.0,355.49 L266.0,354.97 L267.0,354.43 L268.0,353.89 L269.0,353.33 L270.0,352.76 L271.0,352.17 L272.0,351.57 L273.0,350.96 L274.0,350.34 L275.0,349.70 L276.0,349.04 L277.0,348.37 L278.0,347.69 L279.0,346.99 L280.0,346.28 L281.0,345.55 L282.0,344.81 L283.0,344.05 L284.0,343.27 L285.0,342.48 L286.0,341.67 L287.0,340.85 L288.0,340.01 L289.0,339.15 L290.0,338.28 L291.0,337.39 L292.0,336.48 L293.0,335.56 L294.0,334.62 L295.0,333.66 L296.0,332.68 L297.0,331.69 L298.0,330.68 L299.0,329.65 L300.0,328.60 L301.0,327.54 L302.0,326.46 L303.0,325.36 L304.0,324.24 L305.0,323.11 L306.0,321.95 L307.0,320.79 L308.0,319.60 L309.0,318.39 L310.0,317.17 L311.0,315.93 L312.0,314.67 L313.0,313.40 L314.0,312.11 L315.0,310.80 L316.0,309.48 L317.0,308.14 L318.0,306.79 L319.0,305.41 L320.0,304.03 L321.0,302.63 L322.0,301.21 L323.0,299.78 L324.0,298.33 L325.0,296.86 L326.0,295.38 L327.0,293.89 L328.0,292.38 L329.0,290.85 L330.0,289.31 L331.0,287.75 L332.0,286.18 L333.0,284.59 L334.0,282.99 L335.0,281.37 L336.0,279.74 L337.0,278.09 L338.0,276.43 L339.0,274.75 L340.0,273.06 L341.0,271.35 L342.0,269.63 L343.0,267.89 L344.0,266.14 L345.0,264.37 L346.0,262.59 L347.0,260.80 L348.0,258.98 L349.0,257.16 L350.0,255.32 L351.0,253.46 L352.0,251.59 L353.0,249.71 L354.0,247.81 L355.0,245.89 L356.0,243.96 L357.0,242.02 L358.0,240.05 L359.0,238.05 L360.0,236.00 L361.0,233.91 L362.0,231.79 L363.0,229.63 L364.0,227.45 L365.0,225.23 L366.0,222.99 L367.0,220.73 L368.0,218.44 L369.0,216.15 L370.0,213.84 L371.0,211.53 L372.0,209.21 L373.0,206.90 L374.0,204.59 L375.0,202.29 L376.0,200.01 L377.0,197.76 L378.0,195.53 L379.0,193.33 L380.0,191.17 L381.0,189.06 L382.0,187.00 L383.0,185.00 L384.0,183.07 L385.0,181.18 L386.0,179.31 L387.0,177.46 L388.0,175.63 L389.0,173.82 L390.0,172.03 L391.0,170.27 L392.0,168.53 L393.0,166.82 L394.0,165.14 L395.0,163.48 L396.0,161.85 L397.0,160.26 L398.0,158.70 L399.0,157.17 L400.0,155.68 L401.0,154.22 L402.0,152.80 L403.0,151.42 L404.0,150.08 L405.0,148.78 L406.0,147.52 L407.0,146.30 L408.0,145.13 L409.0,144.01 L410.0,142.93 L411.0,141.90 L412.0,140.92 L413.0,140.00 L414.0,139.12 L415.0,138.29 L416.0,137.52 L417.0,136.80 L418.0,136.14 L419.0,135.53 L420.0,134.98 L421.0,134.49 L422.0,134.05 L423.0,133.68 L424.0,133.36 L425.0,133.11 L426.0,132.91 L427.0,132.78 L428.0,132.71 L429.0,132.71 L430.0,132.78 L431.0,132.92 L432.0,133.13 L433.0,133.41 L434.0,133.76 L435.0,134.17 L436.0,134.66 L437.0,135.21 L438.0,135.83 L439.0,136.52 L440.0,137.27 L441.0,138.09 L442.0,138.97 L443.0,139.91 L444.0,140.91 L445.0,141.98 L446.0,143.10 L447.0,144.28 L448.0,145.52 L449.0,146.81 L450.0,148.16 L451.0,149.57 L452.0,151.02 L453.0,152.52 L454.0,154.08 L455.0,155.68 L456.0,157.33 L457.0,159.02 L458.0,160.76 L459.0,162.54 L460.0,164.36 L461.0,166.22 L462.0,168.12 L463.0,170.05 L464.0,172.02 L465.0,174.02 L466.0,176.05 L467.0,178.15 L468.0,180.37 L469.0,182.68 L470.0,185.09 L471.0,187.59 L472.0,190.16 L473.0,192.79 L474.0,195.48 L475.0,198.22 L476.0,201.00 L477.0,203.81 L478.0,206.65 L479.0,209.50 L480.0,212.36 L481.0,215.22 L482.0,218.08 L483.0,220.93 L484.0,223.76 L485.0,226.58 L486.0,229.36 L487.0,232.12 L488.0,234.84 L489.0,237.52 L490.0,240.16 L491.0,242.76 L492.0,245.33 L493.0,247.87 L494.0,250.39 L495.0,252.89 L496.0,255.37 L497.0,257.82 L498.0,260.25 L499.0,262.66 L500.0,265.05 L501.0,267.41 L502.0,269.75 L503.0,272.07 L504.0,274.37 L505.0,276.64 L506.0,278.89 L507.0,281.11 L508.0,283.31 L509.0,285.49 L510.0,287.64 L511.0,289.77 L512.0,291.87 L513.0,293.95 L514.0,296.00 L515.0,298.03 L516.0,300.03 L517.0,302.01 L518.0,303.95 L519.0,305.88 L520.0,307.77 L521.0,309.64 L522.0,311.48 L523.0,313.29 L524.0,315.07 L525.0,316.81 L526.0,318.53 L527.0,320.21 L528.0,321.86 L529.0,323.47 L530.0,325.06 L531.0,326.61 L532.0,328.13 L533.0,329.62 L534.0,331.07 L535.0,332.50 L536.0,333.89 L537.0,335.25 L538.0,336.58 L539.0,337.88 L540.0,339.15 L541.0,340.39 L542.0,341.60 L543.0,342.78 L544.0,343.93 L545.0,345.05 L546.0,346.14 L547.0,347.20 L548.0,348.23 L549.0,349.24 L550.0,350.22 L551.0,351.17 L552.0,352.09 L553.0,352.98 L554.0,353.85 L555.0,354.70 L556.0,355.51 L557.0,356.31 L558.0,357.07 L559.0,357.82 L560.0,358.54 L561.0,359.24 L562.0,359.92 L563.0,360.59 L564.0,361.25 L565.0,361.89 L566.0,362.50 L567.0,363.10 L568.0,363.68 L569.0,364.23 L570.0,364.77 L571.0,365.28 L572.0,365.77 L573.0,366.24 L574.0,366.68 L575.0,367.10 L576.0,367.51 L577.0,367.89 L578.0,368.25 L579.0,368.59 L580.0,368.91 L581.0,369.22 L582.0,369.50 L583.0,369.77 L584.0,370.03 L585.0,370.26 L586.0,370.49 L587.0,370.70 L588.0,370.89 L589.0,371.08 L590.0,371.25 L591.0,371.41 L592.0,371.57 L593.0,371.71 L594.0,371.86 L595.0,371.99 L596.0,372.12 L597.0,372.24 L598.0,372.36 L599.0,372.47 L600.0,372.58 L601.0,372.68 L602.0,372.78 L603.0,372.87 L604.0,372.96 L605.0,373.04 L606.0,373.12 L607.0,373.20 L608.0,373.27 L609.0,373.34 L610.0,373.40 L611.0,373.46 L612.0,373.52 L613.0,373.58 L614.0,373.63 L615.0,373.68 L616.0,373.73 L617.0,373.77 L618.0,373.81 L619.0,373.85 L620.0,373.89 L621.0,373.93 L622.0,373.96 L623.0,373.99 L624.0,374.02 L625.0,374.05 L626.0,374.08 L627.0,374.10 L628.0,374.13 L629.0,374.15 L630.0,374.17 L631.0,374.19 L632.0,374.21 L633.0,374.23 L634.0,374.25 L635.0,374.26 L636.0,374.28 L637.0,374.29 L638.0,374.30 L639.0,374.32 L640.0,374.33 L641.0,374.34 L642.0,374.35 L643.0,374.36 L644.0,374.37 L645.0,374.38 L646.0,374.38 L647.0,374.39 L648.0,374.40 L648.8,374.40" stroke="#0000ff" stroke-width="2" fill="none" stroke-dasharray="3.1,2.37" stroke-linejoin="round"/></g>
<path d="M63,12.28V374.72" stroke="#000000" stroke-width="0.45" fill="none"/>
<path d="M648.5,12.28V374.72M62.78,12.5H648.5M62.78,374.5H648.5" stroke="#000000" stroke-width="0.45" fill="none"/>
<path d="M63,374.50h6.3 M648.5,374.50h-6.3 M63,314.50h6.3 M648.5,314.50h-6.3 M63,253.50h6.3 M648.5,253.50h-6.3 M63,193.50h6.3 M648.5,193.50h-6.3 M63,133.50h6.3 M648.5,133.50h-6.3 M63,72.50h6.3 M648.5,72.50h-6.3 M63,12.50h6.3 M648.5,12.50h-6.3 M63.00,374.5v-6 M63.00,12.5v6 M267.49,374.5v-6 M267.49,12.5v6 M355.65,374.5v-6 M355.65,12.5v6 M560.34,374.5v-6 M560.34,12.5v6 M648.50,374.5v-6 M648.50,12.5v6" stroke="#000000" stroke-width="0.52" fill="none"/>
<path d="M63,359.42h3.8 M648.5,359.42h-3.8 M63,344.33h3.8 M648.5,344.33h-3.8 M63,329.25h3.8 M648.5,329.25h-3.8 M63,299.08h3.8 M648.5,299.08h-3.8 M63,284.00h3.8 M648.5,284.00h-3.8 M63,268.92h3.8 M648.5,268.92h-3.8 M63,238.75h3.8 M648.5,238.75h-3.8 M63,223.67h3.8 M648.5,223.67h-3.8 M63,208.58h3.8 M648.5,208.58h-3.8 M63,178.42h3.8 M648.5,178.42h-3.8 M63,163.33h3.8 M648.5,163.33h-3.8 M63,148.25h3.8 M648.5,148.25h-3.8 M63,118.08h3.8 M648.5,118.08h-3.8 M63,103.00h3.8 M648.5,103.00h-3.8 M63,87.92h3.8 M648.5,87.92h-3.8 M63,57.75h3.8 M648.5,57.75h-3.8 M63,42.67h3.8 M648.5,42.67h-3.8 M63,27.58h3.8 M648.5,27.58h-3.8 M150.96,374.5v-3.5 M150.96,12.5v3.5 M202.52,374.5v-3.5 M202.52,12.5v3.5 M239.11,374.5v-3.5 M239.11,12.5v3.5 M290.68,374.5v-3.5 M290.68,12.5v3.5 M310.29,374.5v-3.5 M310.29,12.5v3.5 M327.27,374.5v-3.5 M327.27,12.5v3.5 M342.25,374.5v-3.5 M342.25,12.5v3.5 M443.81,374.5v-3.5 M443.81,12.5v3.5 M495.37,374.5v-3.5 M495.37,12.5v3.5 M531.96,374.5v-3.5 M531.96,12.5v3.5 M583.53,374.5v-3.5 M583.53,12.5v3.5 M603.14,374.5v-3.5 M603.14,12.5v3.5 M620.12,374.5v-3.5 M620.12,12.5v3.5 M635.10,374.5v-3.5 M635.10,12.5v3.5" stroke="#000000" stroke-width="0.45" fill="none"/>
<text transform="translate(59,382.00) scale(1,1.085)" text-anchor="end" style="font-family:'Liberation Sans',sans-serif;font-weight:bold;font-size:18px;fill:#000;stroke:#000;stroke-width:0.35px">0.0</text>
<text transform="translate(59,321.67) scale(1,1.085)" text-anchor="end" style="font-family:'Liberation Sans',sans-serif;font-weight:bold;font-size:18px;fill:#000;stroke:#000;stroke-width:0.35px">0.2</text>
<text transform="translate(59,261.33) scale(1,1.085)" text-anchor="end" style="font-family:'Liberation Sans',sans-serif;font-weight:bold;font-size:18px;fill:#000;stroke:#000;stroke-width:0.35px">0.4</text>
<text transform="translate(59,201.00) scale(1,1.085)" text-anchor="end" style="font-family:'Liberation Sans',sans-serif;font-weight:bold;font-size:18px;fill:#000;stroke:#000;stroke-width:0.35px">0.6</text>
<text transform="translate(59,140.67) scale(1,1.085)" text-anchor="end" style="font-family:'Liberation Sans',sans-serif;font-weight:bold;font-size:18px;fill:#000;stroke:#000;stroke-width:0.35px">0.8</text>
<text transform="translate(59,80.33) scale(1,1.085)" text-anchor="end" style="font-family:'Liberation Sans',sans-serif;font-weight:bold;font-size:18px;fill:#000;stroke:#000;stroke-width:0.35px">1.0</text>
<text transform="translate(59,20.00) scale(1,1.085)" text-anchor="end" style="font-family:'Liberation Sans',sans-serif;font-weight:bold;font-size:18px;fill:#000;stroke:#000;stroke-width:0.35px">1.2</text>
<text transform="translate(62.80,396.9) scale(1,1.06)" text-anchor="middle" style="font-family:'Liberation Sans',sans-serif;font-weight:bold;font-size:18px;fill:#000;stroke:#000;stroke-width:0.35px">1</text>
<text transform="translate(267.49,396.9) scale(1,1.06)" text-anchor="middle" style="font-family:'Liberation Sans',sans-serif;font-weight:bold;font-size:18px;fill:#000;stroke:#000;stroke-width:0.35px">5</text>
<text transform="translate(355.65,396.9) scale(1,1.06)" text-anchor="middle" style="font-family:'Liberation Sans',sans-serif;font-weight:bold;font-size:18px;fill:#000;stroke:#000;stroke-width:0.35px">10</text>
<text transform="translate(560.34,396.9) scale(1,1.06)" text-anchor="middle" style="font-family:'Liberation Sans',sans-serif;font-weight:bold;font-size:18px;fill:#000;stroke:#000;stroke-width:0.35px">50</text>
<text transform="translate(648.50,396.9) scale(1,1.06)" text-anchor="middle" style="font-family:'Liberation Sans',sans-serif;font-weight:bold;font-size:18px;fill:#000;stroke:#000;stroke-width:0.35px">100</text>
<text x="318.7" y="430.7" style="font-family:'Liberation Sans',sans-serif;font-weight:bold;font-size:22.5px;fill:#000;stroke:#000;stroke-width:0.3px;font-style:italic">m</text>
<text x="345.1" y="430.7" style="font-family:'Liberation Sans',sans-serif;font-weight:bold;font-size:22.5px;fill:#000;stroke:#000;stroke-width:0.3px;stroke-width:0">(</text>
<text transform="translate(351.7,430.7) scale(1.04,1.05)" style="font-family:'Liberation Sans',sans-serif;font-weight:bold;font-size:22.5px;fill:#000;stroke:#000;stroke-width:0.3px">M</text>
<circle cx="378.6" cy="429.2" r="5.05" fill="none" stroke="#000" stroke-width="1.35"/><circle cx="378.6" cy="429.2" r="1.5" fill="#000"/>
<text x="385.9" y="430.7" style="font-family:'Liberation Sans',sans-serif;font-weight:bold;font-size:22.5px;fill:#000;stroke:#000;stroke-width:0.3px;stroke-width:0">)</text>
<text transform="translate(21.0,233.0) rotate(-90) scale(1.02,1)" style="font-family:'Liberation Sans',sans-serif;font-weight:bold;font-size:22.5px;fill:#000;stroke:#000;stroke-width:0.3px;font-style:italic">m</text>
<clipPath id="psi"><rect x="0" y="-12.6" width="30" height="20"/></clipPath>
<text transform="translate(21.0,206.4) rotate(-90) scale(1.0,1)" style="font-family:'Liberation Sans',sans-serif;font-weight:bold;font-size:22.5px;fill:#000;stroke:#000;stroke-width:0.3px;font-style:italic" clip-path="url(#psi)">ψ</text>
<text transform="translate(21.0,189.4) rotate(-90) scale(1.0,1)" style="font-family:'Liberation Sans',sans-serif;font-weight:bold;font-size:22.5px;fill:#000;stroke:#000;stroke-width:0.3px">(</text>
<text transform="translate(21.0,181.4) rotate(-90) scale(1.02,1)" style="font-family:'Liberation Sans',sans-serif;font-weight:bold;font-size:22.5px;fill:#000;stroke:#000;stroke-width:0.3px;font-style:italic">m</text>
<text transform="translate(21.0,160.8) rotate(-90) scale(1.0,1)" style="font-family:'Liberation Sans',sans-serif;font-weight:bold;font-size:22.5px;fill:#000;stroke:#000;stroke-width:0.3px">)</text>
<path d="M75,45.0H101.9" stroke="#ff0000" stroke-width="2"/>
<text transform="translate(107.49,49.50) scale(1.041,1)" style="font-family:'Liberation Sans',sans-serif;font-size:17.7px;fill:#ff0000;stroke:#ff0000;stroke-width:0.25px">P</text>
<text transform="translate(119.63,49.50) scale(0.844,1)" style="font-family:'Liberation Sans',sans-serif;font-size:17.7px;fill:#ff0000;stroke:#ff0000;stroke-width:0.25px">S</text>
<circle cx="136.05" cy="40.90" r="1.55" fill="#ff0000"/><circle cx="136.05" cy="47.90" r="1.55" fill="#ff0000"/>
<text transform="translate(153.85,49.50) scale(1.107,1)" style="font-family:'Liberation Sans',sans-serif;font-size:17.7px;fill:#ff0000;stroke:#ff0000;stroke-width:0.25px;font-style:italic">δ</text>
<path d="M75,68.7H101.9" stroke="#0000ff" stroke-width="2"/>
<text transform="translate(107.49,73.20) scale(1.041,1)" style="font-family:'Liberation Sans',sans-serif;font-size:17.7px;fill:#0000ff;stroke:#0000ff;stroke-width:0.25px">P</text>
<text transform="translate(119.63,73.20) scale(0.844,1)" style="font-family:'Liberation Sans',sans-serif;font-size:17.7px;fill:#0000ff;stroke:#0000ff;stroke-width:0.25px">S</text>
<circle cx="136.05" cy="64.60" r="1.55" fill="#0000ff"/><circle cx="136.05" cy="71.60" r="1.55" fill="#0000ff"/>
<text transform="translate(153.27,73.20) scale(1.096,1)" style="font-family:'Liberation Sans',sans-serif;font-size:17.7px;fill:#0000ff;stroke:#0000ff;stroke-width:0.25px">Δ</text>
<path d="M167.9,65.80H176.4M167.9,69.60H176.4" stroke="#0000ff" stroke-width="1.7" fill="none"/>
<path d="M180.2,63.10L184.0,61.40V72.10M179.9,72.10H187.6" stroke="#0000ff" stroke-width="1.7" fill="none" stroke-linejoin="miter"/>
<path d="M75,92.45H101.9" stroke="#ff0000" stroke-width="2" stroke-dasharray="6.8,2.4"/>
<text transform="translate(108.91,96.95) scale(0.998,1)" style="font-family:'Liberation Sans',sans-serif;font-size:17.7px;fill:#ff0000;stroke:#ff0000;stroke-width:0.25px">T</text>
<text transform="translate(120.22,96.95) scale(1.019,1)" style="font-family:'Liberation Sans',sans-serif;font-size:17.7px;fill:#ff0000;stroke:#ff0000;stroke-width:0.25px">P</text>
<circle cx="136.05" cy="88.35" r="1.55" fill="#ff0000"/><circle cx="136.05" cy="95.35" r="1.55" fill="#ff0000"/>
<text transform="translate(153.85,96.95) scale(1.107,1)" style="font-family:'Liberation Sans',sans-serif;font-size:17.7px;fill:#ff0000;stroke:#ff0000;stroke-width:0.25px;font-style:italic">δ</text>
<path d="M75,115.85H101.9" stroke="#0000ff" stroke-width="2" stroke-dasharray="6.8,2.4"/>
<text transform="translate(108.91,120.35) scale(0.998,1)" style="font-family:'Liberation Sans',sans-serif;font-size:17.7px;fill:#0000ff;stroke:#0000ff;stroke-width:0.25px">T</text>
<text transform="translate(120.22,120.35) scale(1.019,1)" style="font-family:'Liberation Sans',sans-serif;font-size:17.7px;fill:#0000ff;stroke:#0000ff;stroke-width:0.25px">P</text>
<circle cx="136.05" cy="111.75" r="1.55" fill="#0000ff"/><circle cx="136.05" cy="118.75" r="1.55" fill="#0000ff"/>
<text transform="translate(153.27,120.35) scale(1.096,1)" style="font-family:'Liberation Sans',sans-serif;font-size:17.7px;fill:#0000ff;stroke:#0000ff;stroke-width:0.25px">Δ</text>
<path d="M167.9,112.95H176.4M167.9,116.75H176.4" stroke="#0000ff" stroke-width="1.7" fill="none"/>
<path d="M180.2,110.25L184.0,108.55V119.25M179.9,119.25H187.6" stroke="#0000ff" stroke-width="1.7" fill="none" stroke-linejoin="miter"/>
<path d="M75,139.7H101.9" stroke="#0000ff" stroke-width="2" stroke-dasharray="3.1,2.37"/>
<text transform="translate(107.63,144.20) scale(0.952,1)" style="font-family:'Liberation Sans',sans-serif;font-size:17.7px;fill:#0000ff;stroke:#0000ff;stroke-width:0.25px">Y</text>
<text transform="translate(118.71,144.20) scale(0.887,1)" style="font-family:'Liberation Sans',sans-serif;font-size:17.7px;fill:#0000ff;stroke:#0000ff;stroke-width:0.25px">M</text>
<circle cx="136.05" cy="135.60" r="1.55" fill="#0000ff"/><circle cx="136.05" cy="142.60" r="1.55" fill="#0000ff"/>
<text transform="translate(153.27,144.20) scale(1.096,1)" style="font-family:'Liberation Sans',sans-serif;font-size:17.7px;fill:#0000ff;stroke:#0000ff;stroke-width:0.25px">Δ</text>
<path d="M167.9,136.80H176.4M167.9,140.60H176.4" stroke="#0000ff" stroke-width="1.7" fill="none"/>
<path d="M180.2,134.10L184.0,132.40V143.10M179.9,143.10H187.6" stroke="#0000ff" stroke-width="1.7" fill="none" stroke-linejoin="miter"/>
</svg></body></html>
